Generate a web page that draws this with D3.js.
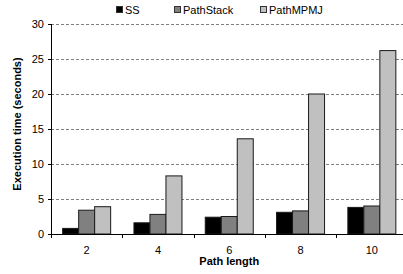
<!DOCTYPE html>
<html>
<head>
<meta charset="utf-8">
<script src="https://cdn.jsdelivr.net/npm/d3@7"></script>
<style>
  body { margin: 0; background: #fff; }
  svg { font-family: "Liberation Sans", Arial, sans-serif; }
</style>
</head>
<body>
<div id="chart"></div>
<script>
// data
var pathLengths = ['2', '4', '6', '8', '10']
var seriesNames = ['SS', 'PathStack', 'PathMPMJ']
var ssValues = [0.8, 1.6, 2.4, 3.1, 3.8]
var pathStackValues = [3.4, 2.8, 2.5, 3.3, 4.0]
var pathMpmjValues = [3.9, 8.3, 13.6, 20.0, 26.2]
var yTicks = [0, 5, 10, 15, 20, 25, 30]

var seriesValues = [ssValues, pathStackValues, pathMpmjValues]
var colors = ['#000000', '#808080', '#c0c0c0']

var width = 403, height = 274
var margin = {top: 24, right: -4.5, bottom: 40, left: 51}
var innerW = width - margin.left - margin.right
var innerH = height - margin.top - margin.bottom

var svg = d3.select('#chart').append('svg')
    .attr('width', width)
    .attr('height', height)

var g = svg.append('g')
    .attr('transform', 'translate(' + margin.left + ',' + margin.top + ')')

var x = d3.scaleBand()
  .domain(pathLengths)
  .range([0, innerW])

var xSeries = d3.scaleBand()
  .domain(seriesNames)
  .range([0, 48])

var y = d3.scaleLinear()
  .domain([0, 30])
  .range([innerH, 0])

// Grid lines (dashed)
g.selectAll('line.grid')
    .data(yTicks.filter(function(d){ return d > 0 }))
  .enter().append('line')
    .attr('class', 'grid')
    .attr('x1', 0)
    .attr('x2', innerW)
    .attr('y1', function(d){ return Math.round(y(d)) + 0.5 })
    .attr('y2', function(d){ return Math.round(y(d)) + 0.5 })
    .style('stroke', '#808080')
    .style('stroke-dasharray', '3,2')

// Bars
var groups = g.selectAll('g.group')
    .data(pathLengths)
  .enter().append('g')
    .attr('class', 'group')
    .attr('transform', function(d){
      return 'translate(' + (x(d) + (x.bandwidth() - 48) / 2) + ',0)'
    })

groups.selectAll('rect')
    .data(function(d, i){
      return seriesNames.map(function(s, j){ return {s: s, j: j, v: seriesValues[j][i]} })
    })
  .enter().append('rect')
    .attr('x', function(d){ return xSeries(d.s) })
    .attr('width', xSeries.bandwidth())
    .attr('y', function(d){ return y(d.v) })
    .attr('height', function(d){ return innerH - y(d.v) })
    .style('fill', function(d){ return colors[d.j] })
    .style('stroke', '#1a1a1a')
    .style('stroke-width', 1)

// Y axis
var yAxis = g.append('g')
    .call(d3.axisLeft(y).tickValues(yTicks).tickSize(3).tickPadding(4))
yAxis.select('.domain').attr('d', 'M0.5,' + innerH + 'V0')
yAxis.selectAll('text').style('font-size', '11px').style('fill', '#000')

// X axis
var xAxis = g.append('g')
    .attr('transform', 'translate(0,' + innerH + ')')
xAxis.append('line')
    .attr('x1', -3).attr('x2', innerW)
    .attr('y1', 0.5).attr('y2', 0.5)
    .style('stroke', '#000')
xAxis.selectAll('line.tick')
    .data(pathLengths)
  .enter().append('line')
    .attr('class', 'tick')
    .attr('x1', function(d){ return Math.round(x(d)) + 0.5 })
    .attr('x2', function(d){ return Math.round(x(d)) + 0.5 })
    .attr('y1', 0).attr('y2', 4)
    .style('stroke', '#000')
xAxis.selectAll('text')
    .data(pathLengths)
  .enter().append('text')
    .attr('x', function(d){ return x(d) + x.bandwidth() / 2 })
    .attr('y', 20)
    .attr('text-anchor', 'middle')
    .style('font-size', '11px')
    .text(function(d){ return d })

// Axis titles
svg.append('text')
    .attr('x', margin.left + innerW / 2)
    .attr('y', 265)
    .attr('text-anchor', 'middle')
    .style('font-size', '11px')
    .style('font-weight', 'bold')
    .text('Path length')

svg.append('text')
    .attr('transform', 'translate(21,124) rotate(-90)')
    .attr('text-anchor', 'middle')
    .style('font-size', '11px')
    .style('font-weight', 'bold')
    .text('Execution time (seconds)')

// Legend
var legendX = [116, 174, 260]
var legend = svg.selectAll('g.legend')
    .data(seriesNames)
  .enter().append('g')
    .attr('class', 'legend')
    .attr('transform', function(d, i){ return 'translate(' + legendX[i] + ',0)' })

legend.append('rect')
    .attr('x', 0.5).attr('y', 6.5)
    .attr('width', 6).attr('height', 6)
    .style('fill', function(d, i){ return colors[i] })
    .style('stroke', '#333')

legend.append('text')
    .attr('x', 9)
    .attr('y', 13.5)
    .style('font-size', '11px')
    .text(function(d){ return d })
</script>
</body>
</html>
